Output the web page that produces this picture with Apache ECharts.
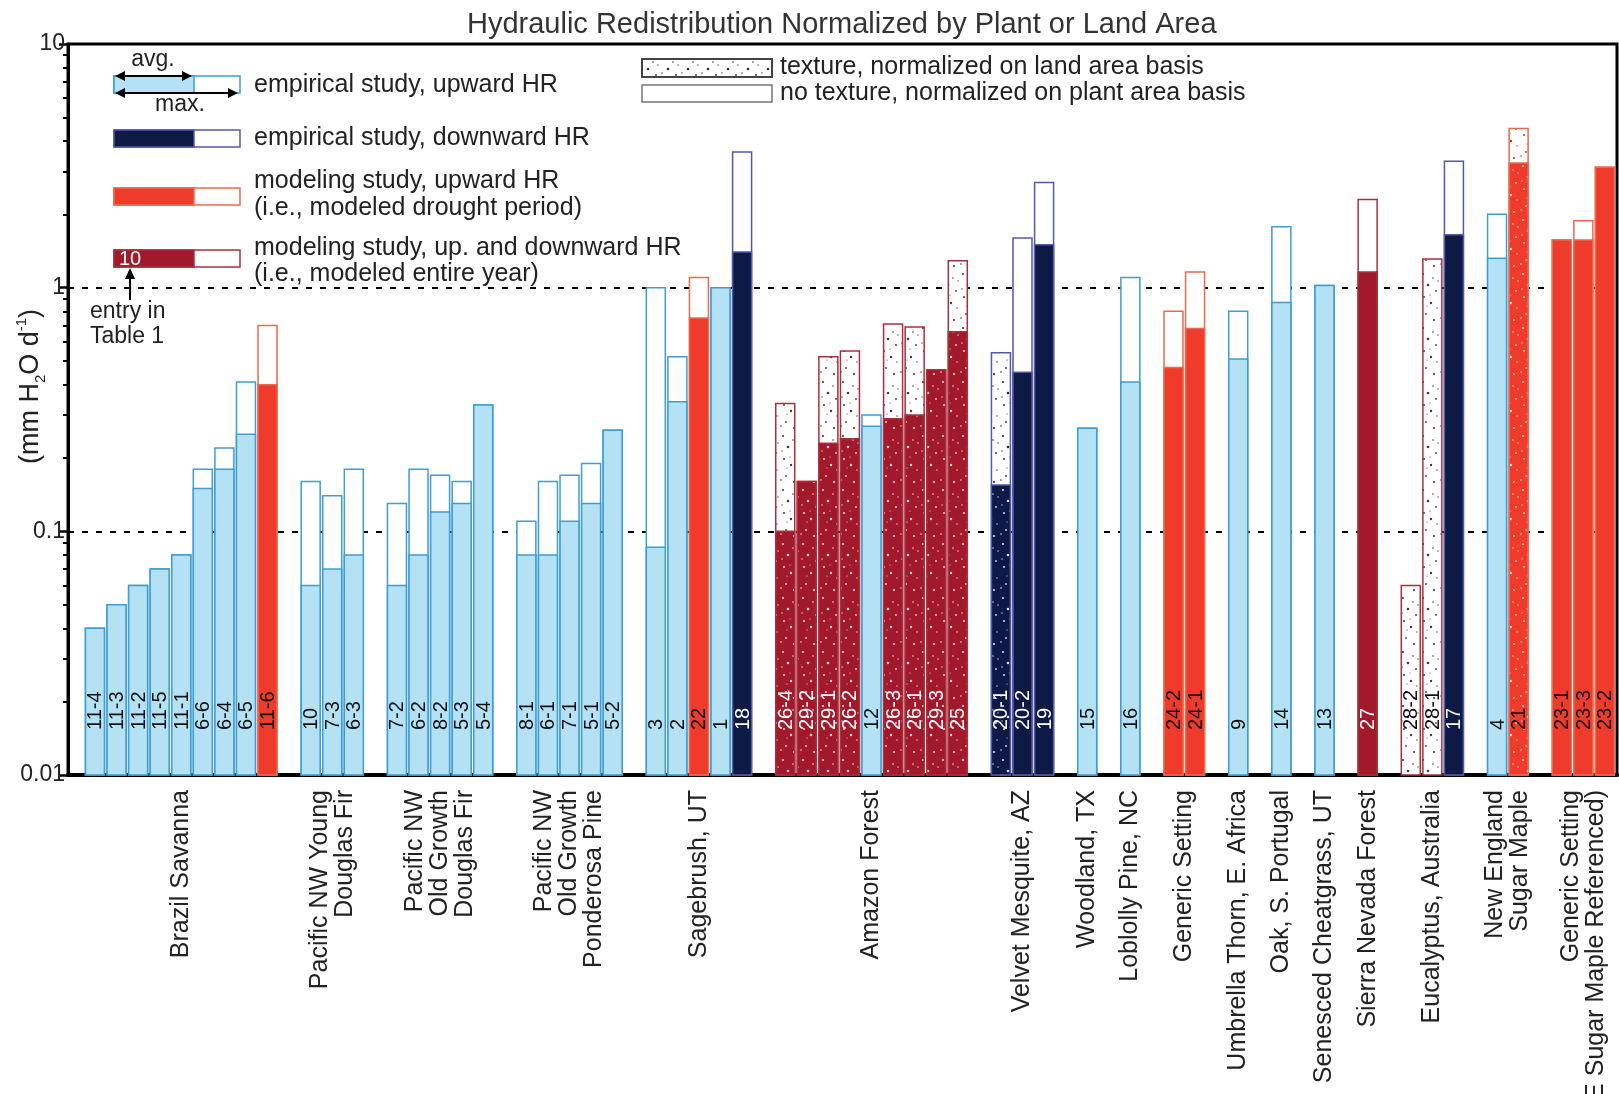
<!DOCTYPE html>
<html>
<head>
<meta charset="utf-8">
<script src="https://cdn.jsdelivr.net/npm/echarts@6/dist/echarts.min.js"></script>
<style>
  html, body { margin: 0; padding: 0; background: #fff; }
  #chart { width: 1619px; height: 1094px; }
</style>
</head>
<body>
<div id="chart"></div>
<script>
// ---- data ----
const groupNames = [
  "Brazil Savanna",
  "Pacific NW Young\nDouglas Fir",
  "Pacific NW\nOld Growth\nDouglas Fir",
  "Pacific NW\nOld Growth\nPonderosa Pine",
  "Sagebrush, UT",
  "Amazon Forest",
  "Velvet Mesquite, AZ",
  "Woodland, TX",
  "Loblolly Pine, NC",
  "Generic Setting",
  "Umbrella Thorn, E. Africa",
  "Oak, S. Portugal",
  "Senesced Cheatgrass, UT",
  "Sierra Nevada Forest",
  "Eucalyptus, Australia",
  "New England\nSugar Maple",
  "Generic Setting\n(NE Sugar Maple Referenced)"
];
const groupSizes = [9, 3, 5, 5, 5, 9, 3, 1, 1, 2, 1, 1, 1, 1, 3, 2, 3];

const entryIds = [
  "11-4", "11-3", "11-2", "11-5", "11-1", "6-6", "6-4", "6-5", "11-6",
  "10", "7-3", "6-3",
  "7-2", "6-2", "8-2", "5-3", "5-4",
  "8-1", "6-1", "7-1", "5-1", "5-2",
  "3", "2", "22", "1", "18",
  "26-4", "29-2", "29-1", "26-2", "12", "26-3", "26-1", "29-3", "25",
  "20-1", "20-2", "19",
  "15",
  "16",
  "24-2", "24-1",
  "9",
  "14",
  "13",
  "27",
  "28-2", "28-1", "17",
  "4", "21",
  "23-1", "23-3", "23-2"
];
// average HR (filled part); null = only a maximum reported
const avgValues = [
  0.04, 0.05, 0.06, 0.07, 0.08, 0.15, 0.18, 0.25, 0.40,
  0.06, 0.07, 0.08,
  0.06, 0.08, 0.12, 0.13, 0.33,
  0.08, 0.08, 0.11, 0.13, 0.26,
  0.086, 0.34, 0.75, 1.0, 1.4,
  0.10, 0.16, 0.23, 0.24, 0.27, 0.29, 0.30, 0.46, 0.66,
  0.155, 0.45, 1.5,
  0.265,
  0.41,
  0.47, 0.68,
  0.51,
  0.87,
  1.02,
  1.16,
  null, null, 1.65,
  1.32, 3.25,
  1.57, 1.57, 3.12
];
// maximum HR (outlined part)
const maxValues = [
  0.04, 0.05, 0.06, 0.07, 0.08, 0.18, 0.22, 0.41, 0.70,
  0.16, 0.14, 0.18,
  0.13, 0.18, 0.17, 0.16, 0.33,
  0.11, 0.16, 0.17, 0.19, 0.26,
  1.0, 0.52, 1.1, 1.0, 3.6,
  0.335, 0.16, 0.52, 0.55, 0.30, 0.71, 0.69, 0.46, 1.29,
  0.54, 1.6, 2.7,
  0.265,
  1.1,
  0.80, 1.16,
  0.80,
  1.78,
  1.02,
  2.3,
  0.06, 1.31, 3.3,
  2.0, 4.5,
  1.57, 1.88, 3.12
];
// eu = empirical upward, ed = empirical downward, mu = modeled upward, mb = modeled up+down
const studyTypes = [
  "eu", "eu", "eu", "eu", "eu", "eu", "eu", "eu", "mu",
  "eu", "eu", "eu",
  "eu", "eu", "eu", "eu", "eu",
  "eu", "eu", "eu", "eu", "eu",
  "eu", "eu", "mu", "eu", "ed",
  "mb", "mb", "mb", "mb", "eu", "mb", "mb", "mb", "mb",
  "ed", "ed", "ed",
  "eu",
  "eu",
  "mu", "mu",
  "eu",
  "eu",
  "eu",
  "mb",
  "mb", "mb", "ed",
  "eu", "mu",
  "mu", "mu", "mu"
];
// 1 = normalized on land area basis (textured)
const landBasis = [
  0, 0, 0, 0, 0, 0, 0, 0, 0,
  0, 0, 0,
  0, 0, 0, 0, 0,
  0, 0, 0, 0, 0,
  0, 0, 0, 0, 0,
  1, 1, 1, 1, 0, 1, 1, 1, 1,
  1, 0, 0,
  0,
  0,
  0, 0,
  0,
  0,
  0,
  0,
  1, 1, 0,
  0, 1,
  0, 0, 0
];
const yMajorTicks = [0.01, 0.1, 1, 10];
const yMinorTicks = [];
[0.01, 0.1, 1].forEach(d => { for (let m = 2; m <= 9; m++) yMinorTicks.push(+(d * m).toPrecision(2)); });

// ---- slot layout: one empty slot between groups ----
const slots = [];
const groupCenters = [];
let s = 0;
groupSizes.forEach(n => {
  groupCenters.push(s + (n - 1) / 2);
  for (let j = 0; j < n; j++) slots.push(s++);
  s++;
});

// ---- styles ----
const FONT = '"Liberation Sans", Arial, Helvetica, sans-serif';
const FILL = { eu: "#b4e1f3", ed: "#0d1a44", mu: "#ef3b2c", mb: "#a3192c" };
const EDGE = { eu: "#3d9dd4", ed: "#5558aa", mu: "#ea6a4e", mb: "#a8303c" };
const ID_COLOR = { eu: "#111", ed: "#fff", mu: "#111", mb: "#fff" };

const DOT_PTS = [
  [3, 4, 1.1], [13, 8, 0.8], [8, 15, 1.3], [16, 21, 0.9], [4, 27, 1.0], [11, 33, 1.2],
  [17, 38, 0.7], [6, 44, 0.9], [14, 50, 1.1], [2, 19, 0.7], [10, 25, 0.6], [18, 11, 0.7],
  [7, 36, 0.6], [1, 48, 0.8]
];
function dotPattern(bg, dot) {
  const c = document.createElement("canvas");
  c.width = 20; c.height = 54;
  const g = c.getContext("2d");
  g.fillStyle = bg; g.fillRect(0, 0, c.width, c.height);
  g.fillStyle = dot;
  DOT_PTS.forEach(([x, y, r]) => { g.beginPath(); g.arc(x, y, r, 0, Math.PI * 2); g.fill(); });
  return { image: c, repeat: "repeat" };
}
const PAT_FILL = {
  eu: dotPattern(FILL.eu, "#fff"),
  ed: dotPattern(FILL.ed, "#d8dcff"),
  mu: dotPattern(FILL.mu, "#ffd8d0"),
  mb: dotPattern(FILL.mb, "#ffd8dc")
};
const PAT_WHITE = {
  eu: dotPattern("#fff", "#3d9dd4"),
  ed: dotPattern("#fff", "#222a55"),
  mu: dotPattern("#fff", "#a03a30"),
  mb: dotPattern("#fff", "#6a2a30")
};
const PAT_LEGEND = dotPattern("#fff", "#333");

function renderBar(params, api) {
  const i = params.dataIndex;
  const x = api.value(0);
  const base = api.coord([x, 0.01]);
  const next = api.coord([x + 1, 0.01]);
  const w = (next[0] - base[0]) * 0.88;
  const left = base[0] - w / 2;
  const t = studyTypes[i];
  const tex = landBasis[i] === 1;
  const top = api.coord([x, maxValues[i]]);
  const children = [{
    type: "rect",
    shape: { x: left, y: top[1], width: w, height: base[1] - top[1] },
    style: { fill: tex ? PAT_WHITE[t] : "#fff", stroke: EDGE[t], lineWidth: 1.5 }
  }];
  if (avgValues[i] != null) {
    const a = api.coord([x, avgValues[i]]);
    children.push({
      type: "rect",
      shape: { x: left, y: a[1], width: w, height: base[1] - a[1] },
      style: { fill: tex ? PAT_FILL[t] : FILL[t], stroke: EDGE[t], lineWidth: 1.5 }
    });
  }
  children.push({
    type: "text",
    x: base[0] + 1, y: base[1] - 45, rotation: Math.PI / 2,
    style: {
      text: entryIds[i], font: "20px " + FONT,
      fill: avgValues[i] == null ? "#111" : ID_COLOR[t],
      align: "left", verticalAlign: "middle"
    }
  });
  return { type: "group", children };
}

function renderGroupLabel(params, api) {
  const p = api.coord([api.value(0), 0.01]);
  return {
    type: "text",
    x: p[0], y: p[1] + 15, rotation: Math.PI / 2,
    style: {
      text: groupNames[params.dataIndex], font: "25px " + FONT, lineHeight: 25,
      fill: "#222", align: "right", verticalAlign: "middle"
    }
  };
}

// ---- legend drawing ----
const LX0 = 114, LXS = 194, LX1 = 240;
const legendRows = [
  { t: "eu", y: 76, text: "empirical study, upward HR", ty: 85 },
  { t: "ed", y: 130, text: "empirical study, downward HR", ty: 138 },
  { t: "mu", y: 188, text: "modeling study, upward HR", ty: 181 },
  { t: "mb", y: 250, text: "modeling study, up. and downward HR", ty: 248 }
];
const legendSubLines = [
  { text: "(i.e., modeled drought period)", y: 208 },
  { text: "(i.e., modeled entire year)", y: 274 }
];
const legendGraphics = [];
legendRows.forEach(r => {
  legendGraphics.push({ type: "rect", shape: { x: LX0, y: r.y, width: LX1 - LX0, height: 17 }, style: { fill: "#fff", stroke: EDGE[r.t], lineWidth: 1.5 } });
  legendGraphics.push({ type: "rect", shape: { x: LX0, y: r.y, width: LXS - LX0, height: 17 }, style: { fill: FILL[r.t], stroke: EDGE[r.t], lineWidth: 1.5 } });
  legendGraphics.push({
    type: "text", x: 254, y: r.ty,
    style: { text: r.text, font: "25px " + FONT, fill: "#222", align: "left", verticalAlign: "middle" }
  });
});
legendSubLines.forEach(l => legendGraphics.push({
  type: "text", x: 254, y: l.y,
  style: { text: l.text, font: "25px " + FONT, fill: "#222", align: "left", verticalAlign: "middle" }
}));
function dblArrow(x1, x2, y) {
  return [
    { type: "line", shape: { x1: x1 + 4, y1: y, x2: x2 - 4, y2: y }, style: { stroke: "#000", lineWidth: 2 } },
    { type: "polygon", shape: { points: [[x1, y], [x1 + 10, y - 5], [x1 + 10, y + 5]] }, style: { fill: "#000" } },
    { type: "polygon", shape: { points: [[x2, y], [x2 - 10, y - 5], [x2 - 10, y + 5]] }, style: { fill: "#000" } }
  ];
}
legendGraphics.push(...dblArrow(LX0 + 1, LXS - 2, 76));
legendGraphics.push(...dblArrow(LX0 + 1, LX1 - 2, 93));
legendGraphics.push(
  { type: "text", x: 153, y: 60, style: { text: "avg.", font: "23px " + FONT, fill: "#222", align: "center", verticalAlign: "middle" } },
  { type: "text", x: 180, y: 105, style: { text: "max.", font: "23px " + FONT, fill: "#222", align: "center", verticalAlign: "middle" } },
  { type: "text", x: 130, y: 259, style: { text: "10", font: "20px " + FONT, fill: "#fff", align: "center", verticalAlign: "middle" } },
  { type: "line", shape: { x1: 130, y1: 300, x2: 130, y2: 276 }, style: { stroke: "#000", lineWidth: 2 } },
  { type: "polygon", shape: { points: [[130, 268], [125, 279], [135, 279]] }, style: { fill: "#000" } },
  { type: "text", x: 90, y: 312, style: { text: "entry in", font: "23px " + FONT, fill: "#222", align: "left", verticalAlign: "middle" } },
  { type: "text", x: 90, y: 337, style: { text: "Table 1", font: "23px " + FONT, fill: "#222", align: "left", verticalAlign: "middle" } },
  { type: "rect", shape: { x: 642, y: 59, width: 130, height: 18 }, style: { fill: PAT_LEGEND, stroke: "#444", lineWidth: 2 } },
  { type: "rect", shape: { x: 642, y: 85, width: 130, height: 17 }, style: { fill: "#fff", stroke: "#777", lineWidth: 1.5 } },
  { type: "text", x: 780, y: 67, style: { text: "texture, normalized on land area basis", font: "25px " + FONT, fill: "#222", align: "left", verticalAlign: "middle" } },
  { type: "text", x: 780, y: 93, style: { text: "no texture, normalized on plant area basis", font: "25px " + FONT, fill: "#222", align: "left", verticalAlign: "middle" } }
);

const chart = echarts.init(document.getElementById("chart"), null, { renderer: "canvas" });
chart.setOption({
  backgroundColor: "#fff",
  animation: false,
  title: {
    text: "Hydraulic Redistribution Normalized by Plant or Land Area",
    left: 462, top: 5,
    textStyle: { fontSize: 29, fontWeight: "normal", color: "#333", fontFamily: FONT }
  },
  grid: {
    left: 68, right: 2, top: 44, bottom: 319,
    containLabel: false, outerBoundsMode: "none",
    show: true, borderColor: "#000", borderWidth: 3
  },
  xAxis: {
    type: "value", min: -1.25, max: 70.56,
    axisLine: { show: true, onZero: false, lineStyle: { color: "#000", width: 4 } },
    axisTick: { show: false }, axisLabel: { show: false }, splitLine: { show: false }
  },
  yAxis: [
    {
      type: "log", logBase: 10, min: 0.01, max: 10, position: "left",
      axisLine: { show: true, onZero: false, lineStyle: { color: "#000", width: 3 } },
      axisTick: { show: true, length: 9, lineStyle: { color: "#000", width: 2.5 }, customValues: yMajorTicks },
      minorTick: { show: false },
      axisLabel: {
        margin: 3, fontSize: 23, color: "#222", fontFamily: FONT,
        customValues: yMajorTicks,
        formatter: v => String(+v.toPrecision(2))
      },
      splitLine: { show: true, lineStyle: { color: "#000", width: 2, type: [6, 8] } },
      name: "{a|(mm H}{s|2}{a|O d}{p|-1}{a|)}",
      nameLocation: "middle", nameRotate: 90, nameGap: 20, nameMoveOverlap: false,
      nameTextStyle: {
        fontFamily: FONT, color: "#222",
        padding: [0, 0, 0, 46],
        rich: {
          a: { fontSize: 27, lineHeight: 34, fontFamily: FONT, color: "#222" },
          s: { fontSize: 15, lineHeight: 34, verticalAlign: "bottom", fontFamily: FONT, color: "#222" },
          p: { fontSize: 15, lineHeight: 34, verticalAlign: "top", fontFamily: FONT, color: "#222" }
        }
      }
    },
    {
      type: "log", logBase: 10, min: 0.01, max: 10, position: "left", offset: 0,
      axisLine: { show: false, onZero: false },
      axisTick: { show: true, length: 5, lineStyle: { color: "#000", width: 2 }, customValues: yMinorTicks },
      axisLabel: { show: false },
      splitLine: { show: false }
    }
  ],
  graphic: legendGraphics,
  series: [
    {
      type: "custom",
      clip: false,
      renderItem: renderBar,
      encode: { x: 0, y: 1 },
      data: slots.map((x, i) => [x, maxValues[i]]),
      z: 2
    },
    {
      type: "custom",
      clip: false,
      renderItem: renderGroupLabel,
      encode: { x: 0, y: 1 },
      data: groupCenters.map(c => [c, 0.01]),
      z: 3
    }
  ]
});
</script>
</body>
</html>
